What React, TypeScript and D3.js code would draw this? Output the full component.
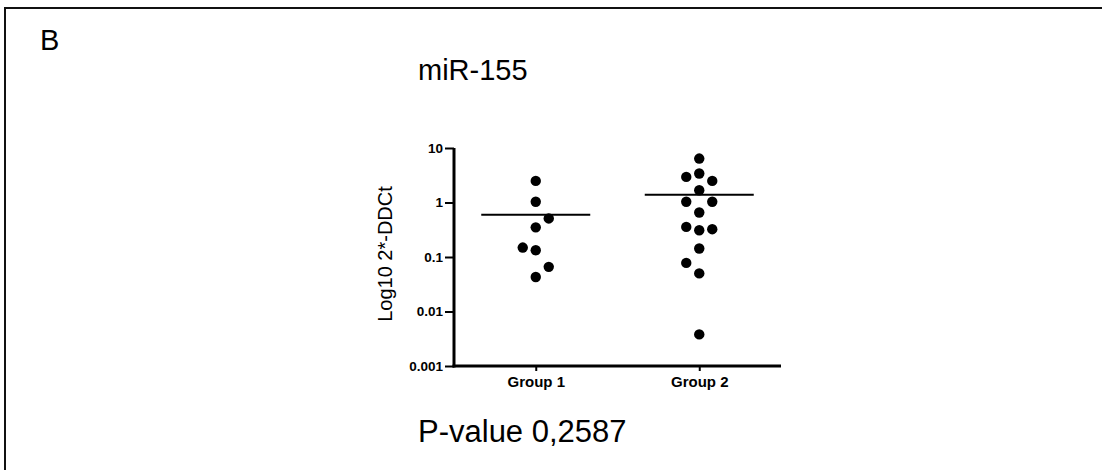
import { useEffect, useRef } from 'react';
import * as d3 from 'd3';

// values (2^-DDCt, log axis)
const groups = ['Group 1', 'Group 2'];
const group1Values = [2.49, 1.03, 0.51, 0.35, 0.149, 0.133, 0.066, 0.043];
const group2Values = [6.4, 3.4, 2.95, 2.49, 1.68, 1.03, 1.03, 0.656, 0.324, 0.31, 0.357, 0.143, 0.078, 0.05, 0.0038];
const yTicks = [0.001, 0.01, 0.1, 1, 10];
const yTickLabels = ['0.001', '0.01', '0.1', '1', '10'];

const panelLabel = 'B';
const title = 'miR-155';
const yLabel = 'Log10 2*-DDCt';
const pValueText = 'P-value 0,2587';

const FONT = 'Arial, "Liberation Sans", sans-serif';

const App = () => {
    const svgRef = useRef<SVGSVGElement>(null);

    useEffect(() => {
        const width = 1102;
        const height = 470;

        const svg = d3.select(svgRef.current);
        svg.selectAll('*').remove();
        svg.attr('width', width).attr('height', height);

        // frame (only top and left edges are visible)
        svg.append('path')
            .attr('d', `M5,${height} L5,8 L${width},8`)
            .attr('fill', 'none')
            .attr('stroke', '#111')
            .attr('stroke-width', 2);

        // ==========================================
        // SCALES
        // ==========================================
        const plot = { left: 454, right: 781, top: 148, bottom: 366 };

        const xScale = d3.scalePoint<string>()
            .domain(groups)
            .range([plot.left, plot.right])
            .padding(0.5);

        const yScale = d3.scaleLog()
            .domain([0.001, 10])
            .range([plot.bottom, plot.top]);

        // ==========================================
        // AXES
        // ==========================================
        const yAxis = d3.axisLeft(yScale)
            .tickValues(yTicks)
            .tickFormat((d, i) => yTickLabels[i])
            .tickSize(9)
            .tickSizeOuter(0)
            .tickPadding(2);

        const gy = svg.append('g')
            .attr('transform', `translate(${plot.left},0)`)
            .call(yAxis);
        gy.select('.domain').attr('stroke', '#000').attr('stroke-width', 3)
            .attr('d', `M0,${plot.top}V${plot.bottom + 1.5}`);
        gy.selectAll('.tick line').attr('stroke', '#000').attr('stroke-width', 2);
        gy.selectAll('.tick text')
            .attr('fill', '#000')
            .style('font-family', FONT)
            .style('font-size', '13.5px')
            .style('font-weight', 'bold');

        const xAxis = d3.axisBottom(xScale)
            .tickSize(5)
            .tickSizeOuter(0)
            .tickPadding(5);

        const gx = svg.append('g')
            .attr('transform', `translate(0,${plot.bottom})`)
            .call(xAxis);
        gx.select('.domain').attr('stroke', '#000').attr('stroke-width', 3)
            .attr('d', `M${plot.left - 1.5},0H${plot.right}`);
        gx.selectAll('.tick line').attr('stroke', '#000').attr('stroke-width', 2);
        gx.selectAll('.tick text')
            .attr('fill', '#000')
            .style('font-family', FONT)
            .style('font-size', '15px')
            .style('font-weight', 'bold');

        // ==========================================
        // TEXTS
        // ==========================================
        svg.append('text')
            .attr('transform', `translate(392,254) rotate(-90)`)
            .attr('text-anchor', 'middle')
            .style('font-family', FONT)
            .style('font-size', '20px')
            .text(yLabel);

        svg.append('text')
            .attr('x', 40).attr('y', 50)
            .style('font-family', FONT)
            .style('font-size', '29px')
            .text(panelLabel);

        svg.append('text')
            .attr('x', 418).attr('y', 80)
            .style('font-family', FONT)
            .style('font-size', '29px')
            .text(title);

        svg.append('text')
            .attr('x', 418).attr('y', 442)
            .style('font-family', FONT)
            .style('font-size', '31px')
            .text(pValueText);

        // ==========================================
        // DOTS (simple column dodge)
        // ==========================================
        const r = 5.2;
        const slotWidth = 13;
        const minGap = 14;
        let nextSide = 1;

        const series = [group1Values, group2Values];

        series.forEach((values, gi) => {
            const cx = xScale(groups[gi]) as number;
            const placed: { slot: number; y: number }[] = [];
            const free = (slot: number, y: number) =>
                placed.every(p => p.slot !== slot || Math.abs(p.y - y) >= minGap);

            const sorted = [...values].sort((a, b) => a - b);
            const dots = sorted.map(v => {
                const y = yScale(v);
                let slot = 0;
                if (!free(0, y)) {
                    const order = [nextSide, -nextSide, 2 * nextSide, -2 * nextSide];
                    slot = order.find(s => free(s, y)) ?? nextSide;
                    nextSide = -nextSide;
                }
                placed.push({ slot, y });
                return { x: cx + slot * slotWidth, y };
            });

            svg.append('g')
                .selectAll('circle')
                .data(dots)
                .enter()
                .append('circle')
                .attr('cx', d => d.x)
                .attr('cy', d => d.y)
                .attr('r', r)
                .attr('fill', '#000');

            // mean line
            const mean = d3.mean(values) as number;
            const half = xScale.step() / 3;
            svg.append('line')
                .attr('x1', cx - half)
                .attr('x2', cx + half)
                .attr('y1', yScale(mean))
                .attr('y2', yScale(mean))
                .attr('stroke', '#000')
                .attr('stroke-width', 2);
        });
    }, []);

    return (
        <svg
            ref={svgRef}
            style={{ position: 'absolute', left: 0, top: 0, background: '#fff' }}
        />
    );
};

export default App;
